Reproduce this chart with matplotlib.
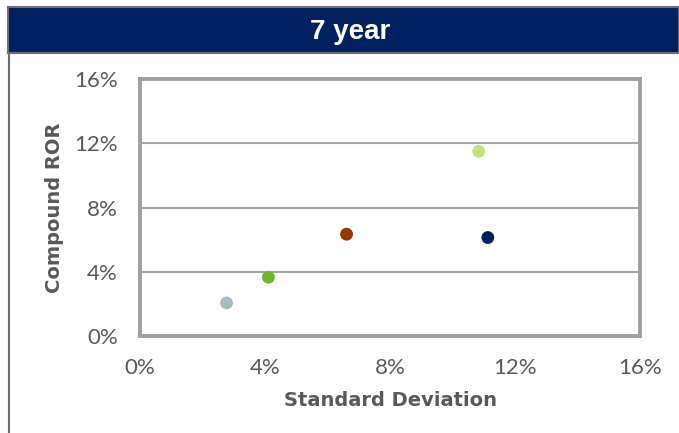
import matplotlib.pyplot as plt
from matplotlib.patches import Rectangle
from matplotlib.lines import Line2D
from matplotlib.ticker import FuncFormatter

plt.rcParams.update({
    "font.family": "DejaVu Sans",
    "font.size": 14,
})

# 7 year risk / return per asset class
std_dev = [2.77, 4.11, 6.61, 10.84, 11.13]
compound_ror = [2.06, 3.66, 6.34, 11.50, 6.13]
colors = ['#A3BEC0', '#6AB62D', '#993300', '#C4E27A', '#002060']
ticks = [0, 4, 8, 12, 16]

W, H = 679, 433
fig = plt.figure(figsize=(W / 100, H / 100), dpi=100)

# title banner and left rule
fig.patches.append(Rectangle((8 / W, 1 - 53 / H), 1 - 8 / W, 46 / H,
                             transform=fig.transFigure, facecolor='#002060',
                             edgecolor='#6E6E6E', linewidth=1.5))
fig.lines.append(Line2D([8.5 / W, 8.5 / W], [0, 1 - 53 / H],
                        transform=fig.transFigure, color='#6E6E6E', linewidth=1.5))
fig.text(350 / W, 1 - 32 / H, '7 year', color='white', family='Liberation Sans',
         fontsize=20, fontweight='bold', ha='center', va='center')

ax = fig.add_axes([140 / W, 1 - 336 / H, 500 / W, 257 / H])
ax.scatter(std_dev, compound_ror, c=colors, s=85, zorder=3, linewidths=0)

ax.set_xlim(0, 16)
ax.set_ylim(0, 16)
ax.set_xticks(ticks)
ax.set_yticks(ticks)
pct = FuncFormatter(lambda v, p: f'{v:.0f}%')
ax.xaxis.set_major_formatter(pct)
ax.yaxis.set_major_formatter(pct)
ax.tick_params(length=0, colors='#595959', labelsize=16)
ax.tick_params(axis='x', pad=16)
ax.tick_params(axis='y', pad=16)
for lbl in ax.get_xticklabels() + ax.get_yticklabels():
    lbl.set_family('Lato')

ax.grid(axis='y', color='#A6A6A6', linewidth=1.5)
ax.set_axisbelow(True)
for s in ax.spines.values():
    s.set_color('#A0A0A0')
    s.set_linewidth(2.8)

ax.set_xlabel('Standard Deviation', fontsize=14, fontweight='bold',
              family='DejaVu Sans', color='#595959', labelpad=9)
ax.set_ylabel('Compound ROR', fontsize=14, fontweight='bold',
              family='DejaVu Sans', color='#595959', labelpad=7)

fig.savefig('out.png', dpi=100)
